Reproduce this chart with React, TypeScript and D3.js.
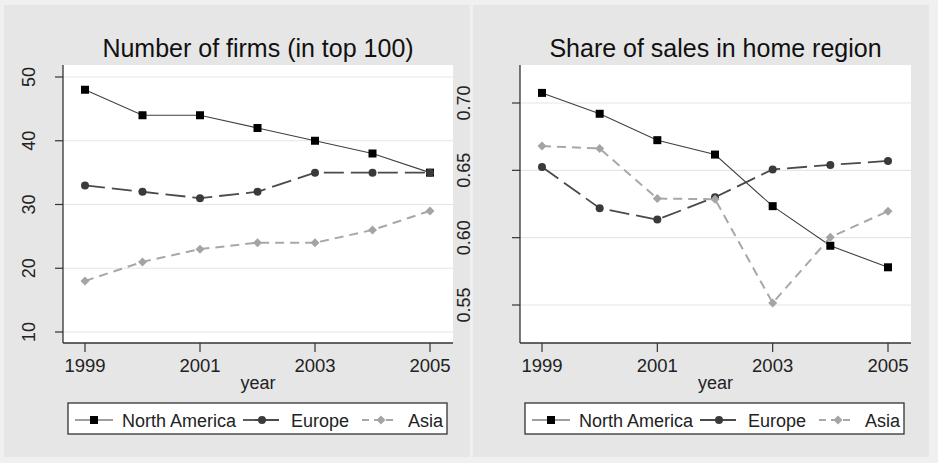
import React from "react";
import * as d3 from "d3";

const years = [1999, 2000, 2001, 2002, 2003, 2004, 2005];
const xTicks = [1999, 2001, 2003, 2005];

const firmsNorthAmerica = [48, 44, 44, 42, 40, 38, 35];
const firmsEurope = [33, 32, 31, 32, 35, 35, 35];
const firmsAsia = [18, 21, 23, 24, 24, 26, 29];
const firmsTicks = [10, 20, 30, 40, 50];

const shareNorthAmerica = [0.7075, 0.692, 0.6724, 0.6617, 0.6234, 0.594, 0.578];
const shareEurope = [0.6525, 0.6219, 0.6134, 0.63, 0.6507, 0.654, 0.657];
const shareAsia = [0.668, 0.6662, 0.629, 0.6286, 0.5515, 0.6003, 0.6197];
const shareTicks = [0.55, 0.6, 0.65, 0.7];

const seriesNames = ["North America", "Europe", "Asia"];

const FONT = "'Liberation Sans', Arial, Helvetica, sans-serif";

type SeriesStyle = {
  line: string;
  width: number;
  dash: string | undefined;
  marker: string;
  shape: "square" | "circle" | "diamond";
};

const styles: SeriesStyle[] = [
  { line: "#404040", width: 1.1, dash: undefined, marker: "#000000", shape: "square" },
  { line: "#4a4a4a", width: 1.8, dash: "20,7", marker: "#3a3a3a", shape: "circle" },
  { line: "#a8a8a8", width: 2, dash: "9,6", marker: "#a4a4a4", shape: "diamond" },
];

function Marker({ x, y, s }: { x: number; y: number; s: SeriesStyle }) {
  if (s.shape === "square")
    return <rect x={x - 4} y={y - 4} width={8} height={8} fill={s.marker} />;
  if (s.shape === "circle") return <circle cx={x} cy={y} r={4} fill={s.marker} />;
  const r = 4.5;
  return (
    <path
      d={`M${x},${y - r}L${x + r},${y}L${x},${y + r}L${x - r},${y}Z`}
      fill={s.marker}
    />
  );
}

type PanelProps = {
  title: string;
  series: number[][];
  ticks: number[];
  fmt: (v: number) => string;
  plotX0: number;
  plotX1: number;
  plotY0: number;
  plotY1: number;
  xRange: [number, number];
  yDomain: [number, number];
  yRange: [number, number];
  labelX: number;
  legendX0: number;
  legendX1: number;
};

function Panel(p: PanelProps) {
  const x = d3.scaleLinear().domain([1999, 2005]).range(p.xRange);
  const y = d3.scaleLinear().domain(p.yDomain).range(p.yRange);
  const line = d3
    .line<number>()
    .x((_, i) => x(years[i]))
    .y((d) => y(d));
  const cx = (p.plotX0 + p.plotX1) / 2;
  const lx = p.legendX0;
  const legendY = 420;
  // legend items offsets relative to legend left
  const items = [
    { s0: 7, s1: 45, m: 26, t: 54 },
    { s0: 175, s1: 214, m: 194, t: 223 },
    { s0: 294, s1: 329, m: 313, t: 340 },
  ];
  return (
    <g>
      <text
        x={cx}
        y={57}
        textAnchor="middle"
        fontFamily={FONT}
        fontSize={25}
        fill="#111"
      >
        {p.title}
      </text>
      <rect
        x={p.plotX0}
        y={p.plotY0}
        width={p.plotX1 - p.plotX0}
        height={p.plotY1 - p.plotY0}
        fill="#ffffff"
      />
      {p.ticks.map((t) => (
        <line
          key={"g" + t}
          x1={p.plotX0}
          x2={p.plotX1}
          y1={y(t)}
          y2={y(t)}
          stroke="#e6e6e6"
          strokeWidth={1.2}
        />
      ))}
      {/* y axis */}
      <line x1={p.plotX0} x2={p.plotX0} y1={p.plotY0} y2={p.plotY1} stroke="#333" strokeWidth={1.3} />
      {p.ticks.map((t) => (
        <g key={"t" + t}>
          <line x1={p.plotX0 - 8} x2={p.plotX0} y1={y(t)} y2={y(t)} stroke="#333" strokeWidth={1.2} />
          <text
            transform={`translate(${p.labelX},${y(t)}) rotate(-90)`}
            textAnchor="middle"
            fontFamily={FONT}
            fontSize={18}
            fill="#222"
          >
            {p.fmt(t)}
          </text>
        </g>
      ))}
      {/* x axis */}
      <line x1={p.plotX0} x2={p.plotX1} y1={p.plotY1} y2={p.plotY1} stroke="#333" strokeWidth={1.3} />
      {xTicks.map((t) => (
        <g key={"x" + t}>
          <line x1={x(t)} x2={x(t)} y1={p.plotY1} y2={p.plotY1 + 9} stroke="#333" strokeWidth={1.2} />
          <text
            x={x(t)}
            y={372}
            textAnchor="middle"
            fontFamily={FONT}
            fontSize={18.5}
            fill="#222"
          >
            {t}
          </text>
        </g>
      ))}
      <text x={cx} y={389} textAnchor="middle" fontFamily={FONT} fontSize={18} fill="#222">
        year
      </text>
      {/* series */}
      {p.series.map((vals, si) => (
        <path
          key={"l" + si}
          d={line(vals) || ""}
          fill="none"
          stroke={styles[si].line}
          strokeWidth={styles[si].width}
          strokeDasharray={styles[si].dash}
        />
      ))}
      {p.series.map((vals, si) =>
        vals.map((v, i) => (
          <Marker key={"m" + si + "-" + i} x={x(years[i])} y={y(v)} s={styles[si]} />
        ))
      )}
      {/* legend */}
      <rect
        x={p.legendX0}
        y={403}
        width={p.legendX1 - p.legendX0}
        height={31}
        fill="#ffffff"
        stroke="#333"
        strokeWidth={1.3}
      />
      {seriesNames.map((n, si) => (
        <g key={"lg" + si}>
          <line
            x1={lx + items[si].s0}
            x2={lx + items[si].s1}
            y1={legendY}
            y2={legendY}
            stroke={styles[si].line}
            strokeWidth={styles[si].width}
            strokeDasharray={si === 2 ? "7,5" : si === 1 ? "16,4" : undefined}
          />
          <Marker x={lx + items[si].m} y={legendY} s={styles[si]} />
          <text
            x={lx + items[si].t}
            y={legendY + 6.5}
            fontFamily={FONT}
            fontSize={18}
            fill="#222"
          >
            {n}
          </text>
        </g>
      ))}
    </g>
  );
}

export default function App() {
  return (
    <svg
      width={938}
      height={463}
      style={{ position: "absolute", left: 0, top: 0, display: "block" }}
    >
      <rect x={0} y={0} width={938} height={463} fill="#f0f0f0" />
      <rect x={4} y={5} width={466} height={452} fill="#e6e6e6" />
      <rect x={473} y={5} width={456} height={452} fill="#e6e6e6" />
      <Panel
        title="Number of firms (in top 100)"
        series={[firmsNorthAmerica, firmsEurope, firmsAsia]}
        ticks={firmsTicks}
        fmt={(v) => String(v)}
        plotX0={63}
        plotX1={453}
        plotY0={65}
        plotY1={343}
        xRange={[85, 430]}
        yDomain={[10, 50]}
        yRange={[332, 77]}
        labelX={35}
        legendX0={68}
        legendX1={447}
      />
      <Panel
        title="Share of sales in home region"
        series={[shareNorthAmerica, shareEurope, shareAsia]}
        ticks={shareTicks}
        fmt={(v) => d3.format(".2f")(v)}
        plotX0={520}
        plotX1={911}
        plotY0={65}
        plotY1={343}
        xRange={[542, 888]}
        yDomain={[0.55, 0.7]}
        yRange={[305, 103]}
        labelX={470}
        legendX0={525}
        legendX1={904}
      />
    </svg>
  );
}
